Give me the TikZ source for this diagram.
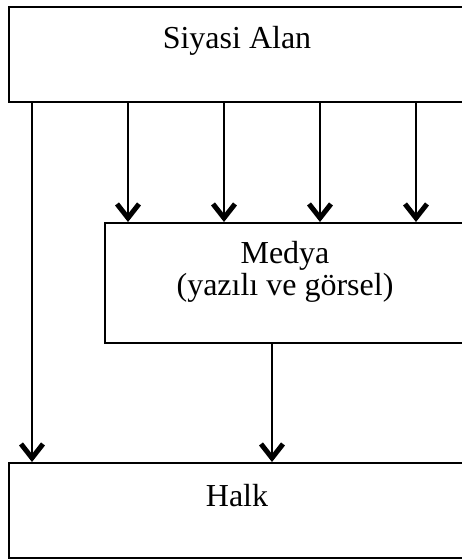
\documentclass[tikz,border=0pt]{standalone}
\usepackage{fontspec}
\setmainfont{Liberation Serif}
\usetikzlibrary{arrows.meta}
\begin{document}
\begin{tikzpicture}[x=1pt,y=-1pt,
  box/.style={draw=black,line width=2pt,fill=white,inner sep=0pt,anchor=north west},
  lbl/.style={font=\fontsize{32}{34}\selectfont,inner sep=0pt,anchor=base},
  arr/.style={line width=2pt,-{Straight Barb[length=14pt,width=22pt,line width=5pt]}}]
\useasboundingbox (0,0) rectangle (461,560);
\node[box,minimum width=458pt,minimum height=95pt] (siyasi) at (8,6) {};
\node[box,minimum width=362pt,minimum height=120pt] (medya) at (104,222) {};
\node[box,minimum width=458pt,minimum height=95pt] (halk) at (8,462) {};
\node[lbl] (tsiyasi) at (237,48) {Siyasi Alan};
\node[lbl] (tmedya1) at (285,263) {Medya};
\node[lbl] (tmedya2) at (285,295) {(yazılı ve görsel)};
\node[lbl] (thalk) at (237,506) {Halk};
\coordinate (s1) at (32,101);
\coordinate (h1) at (32,462);
\draw[arr] (s1) -- (h1);
\foreach \x in {128,224,320,416}{
  \draw[arr] (\x,101) -- (\x,222);
}
\coordinate (m1) at (272,342);
\coordinate (h2) at (272,462);
\draw[arr] (m1) -- (h2);
\end{tikzpicture}
\end{document}
